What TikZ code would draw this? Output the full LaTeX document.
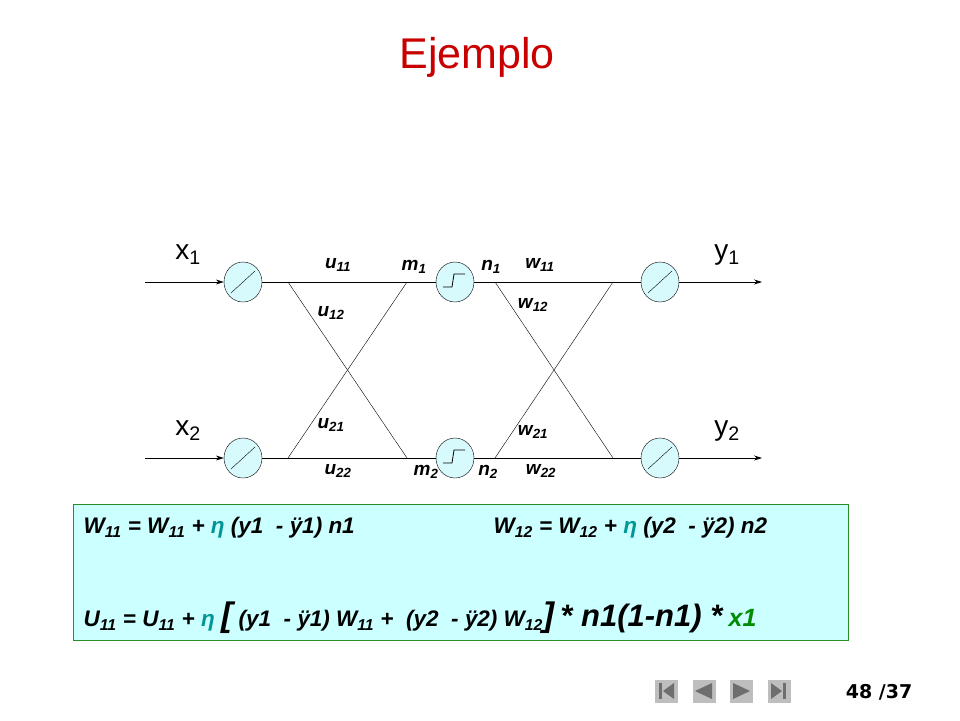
\documentclass[tikz,border=0pt]{standalone}
\usepackage{fontspec}
\setmainfont{Liberation Sans}
\newfontfamily\verd{DejaVu Sans}
\usetikzlibrary{arrows.meta,shapes.geometric}
\definecolor{cellfill}{RGB}{215,250,252}
\definecolor{boxfill}{RGB}{204,255,255}
\definecolor{boxline}{RGB}{40,140,40}
\definecolor{etacol}{RGB}{0,150,150}
\definecolor{xgreen}{RGB}{0,140,0}
\definecolor{titlered}{RGB}{200,0,0}
\definecolor{navgray}{RGB}{190,190,190}
\definecolor{navdark}{RGB}{110,110,110}
\begin{document}
\begin{tikzpicture}[x=1pt,y=-1pt,
  neuron/.style={draw,ellipse,fill=cellfill,minimum width=38pt,minimum height=40pt,inner sep=0pt},
  wire/.style={line width=0.7pt},
  arr/.style={line width=0.7pt,-{Stealth[length=8pt,width=5pt]}},
  lab/.style={font=\fontsize{19}{19}\selectfont\bfseries\itshape},
  io/.style={font=\fontsize{28}{28}\selectfont},
  eq/.style={font=\fontsize{22.5}{22.5}\selectfont\bfseries\itshape,anchor=west},
  navbtn/.style={fill=navgray,minimum width=23pt,minimum height=23pt,inner sep=0pt}]
\useasboundingbox (0,0) rectangle (960,720);
\node[font=\fontsize{43}{43}\selectfont,text=titlered] (title) at (477,57) {Ejemplo};
% neurons
\node[neuron] (a1) at (243,282) {};
\node[neuron] (a2) at (243,458) {};
\node[neuron] (h1) at (455,282) {};
\node[neuron] (h2) at (455,458) {};
\node[neuron] (o1) at (660,282) {};
\node[neuron] (o2) at (660,458) {};
\foreach \n in {a1,a2,o1,o2}{\draw ([shift={(-12,11)}]\n.center) -- ([shift={(12,-11)}]\n.center);}
\foreach \n in {h1,h2}{\draw[line width=0.8pt] ([shift={(-12,5)}]\n.center) -- ([shift={(-3,5)}]\n.center) -- ([shift={(-1,-8)}]\n.center) -- ([shift={(10,-8)}]\n.center);}
% inputs/outputs
\coordinate (i1) at (145,282); \coordinate (i2) at (145,458);
\coordinate (e1) at (762,282); \coordinate (e2) at (762,458);
\draw[arr] (i1) -- (a1);
\draw[arr] (i2) -- (a2);
\draw[arr] (o1) -- (e1);
\draw[arr] (o2) -- (e2);
% connections
\coordinate (p1) at (288,282); \coordinate (p2) at (288,458);
\coordinate (q1) at (407,282); \coordinate (q2) at (407,458);
\coordinate (r1) at (495,282); \coordinate (r2) at (495,458);
\coordinate (s1) at (613,282); \coordinate (s2) at (613,458);
\draw[wire] (a1) -- (h1);
\draw[wire] (a2) -- (h2);
\draw[wire] (h1) -- (o1);
\draw[wire] (h2) -- (o2);
\draw (p1) -- (q2);
\draw (p2) -- (q1);
\draw (r1) -- (s2);
\draw (r2) -- (s1);
% labels
\node[io] (x1) at (188,255) {x\textsubscript{1}};
\node[io] (x2) at (188,431) {x\textsubscript{2}};
\node[io] (y1) at (727,255) {y\textsubscript{1}};
\node[io] (y2) at (727,431) {y\textsubscript{2}};
\node[lab] (u11) at (338,265) {u\textsubscript{11}};
\node[lab] (u12) at (331,313) {u\textsubscript{12}};
\node[lab] (u21) at (331,425) {u\textsubscript{21}};
\node[lab] (u22) at (338,471) {u\textsubscript{22}};
\node[lab] (m1) at (414,267) {m\textsubscript{1}};
\node[lab] (n1) at (491,267) {n\textsubscript{1}};
\node[lab] (w11) at (540,265) {w\textsubscript{11}};
\node[lab] (w12) at (533,305) {w\textsubscript{12}};
\node[lab] (w21) at (533,432) {w\textsubscript{21}};
\node[lab] (w22) at (541,471) {w\textsubscript{22}};
\node[lab] (m2) at (426,472) {m\textsubscript{2}};
\node[lab] (n2) at (488,472) {n\textsubscript{2}};
% box
\draw[boxline,fill=boxfill] (73,504) rectangle (848,640);
\node[eq] (eq1) at (80,528) {W\textsubscript{11} = W\textsubscript{11} + \textcolor{etacol}{η} (y1 \ - ÿ1) n1};
\node[eq] (eq2) at (490,528) {W\textsubscript{12} = W\textsubscript{12} + \textcolor{etacol}{η} (y2 \ - ÿ2) n2};
\node[eq] (eq3) at (80,618) {U\textsubscript{11} = U\textsubscript{11} + \textcolor{etacol}{η} {\fontsize{34}{34}\selectfont[} (y1 \ - ÿ1) W\textsubscript{11} + \ (y2 \ - ÿ2) W\textsubscript{12}{\fontsize{34}{34}\selectfont]} {\fontsize{31}{31}\selectfont * n1(1-n1) *} {\fontsize{25}{25}\selectfont\textcolor{xgreen}{x1}}};
% nav
\node[navbtn] (b1) at (666,691) {};
\node[navbtn] (b2) at (704,691) {};
\node[navbtn] (b3) at (741,691) {};
\node[navbtn] (b4) at (779,691) {};
\fill[navdark] ([shift={(-7,-8)}]b1.center) rectangle ([shift={(-4,8)}]b1.center);
\fill[navdark] ([shift={(-3,0)}]b1.center) -- ([shift={(8,-8)}]b1.center) -- ([shift={(8,8)}]b1.center) -- cycle;
\fill[navdark] ([shift={(-9,0)}]b2.center) -- ([shift={(8,-8)}]b2.center) -- ([shift={(8,8)}]b2.center) -- cycle;
\fill[navdark] ([shift={(9,0)}]b3.center) -- ([shift={(-8,-8)}]b3.center) -- ([shift={(-8,8)}]b3.center) -- cycle;
\fill[navdark] ([shift={(4,-8)}]b4.center) rectangle ([shift={(7,8)}]b4.center);
\fill[navdark] ([shift={(3,0)}]b4.center) -- ([shift={(-8,-8)}]b4.center) -- ([shift={(-8,8)}]b4.center) -- cycle;
\node[font=\verd\fontsize{19}{19}\selectfont\bfseries] (pg) at (879,692) {48 /37};
\end{tikzpicture}
\end{document}
